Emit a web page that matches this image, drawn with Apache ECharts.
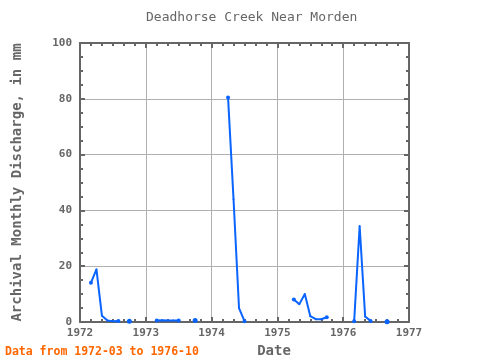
<!DOCTYPE html>
<html>
<head>
<meta charset="utf-8">
<script src="https://cdn.jsdelivr.net/npm/echarts@6/dist/echarts.min.js"></script>
<style>html,body{margin:0;padding:0;background:#fff}#c{width:480px;height:360px}</style>
</head>
<body>
<div id="c"></div>
<script>
// Monthly months (YYYY-MM) and discharge values (mm); null = no data
var months = [
  '1972-03','1972-04','1972-05','1972-06','1972-07','1972-08','1972-09','1972-10','1972-11','1972-12',
  '1973-01','1973-02','1973-03','1973-04','1973-05','1973-06','1973-07','1973-08','1973-09','1973-10','1973-11','1973-12',
  '1974-01','1974-02','1974-03','1974-04','1974-05','1974-06','1974-07','1974-08','1974-09','1974-10','1974-11','1974-12',
  '1975-01','1975-02','1975-03','1975-04','1975-05','1975-06','1975-07','1975-08','1975-09','1975-10','1975-11','1975-12',
  '1976-01','1976-02','1976-03','1976-04','1976-05','1976-06','1976-07','1976-08','1976-09','1976-10'
];
var discharge = [
  14.1, 18.9, 2.2, 0.5, 0.3, 0.4, null, 0.3, null, null,
  null, null, 0.5, 0.6, 0.5, 0.5, 0.5, null, null, 0.5, null, null,
  null, null, null, 80.5, 44.0, 5.0, 0.3, null, null, null, null, null,
  null, null, null, 8.1, 6.4, 10.0, 2.1, 1.0, 1.0, 1.7, null, null,
  null, null, 0.3, 34.4, 2.0, 0.4, null, null, 0.1, null
];
var xTicks = [1972, 1973, 1974, 1975, 1976, 1977];
var yTicks = [0, 20, 40, 60, 80, 100];

var titleText = 'Deadhorse Creek Near Morden';
var footText = 'Data from 1972-03 to 1976-10';
var yName = 'Archival Monthly Discharge, in mm';
var xName = 'Date';

var points = months.map(function (m, i) {
  var p = m.split('-');
  var x = +p[0] + (+p[1] - 1) / 12;
  return [x, discharge[i]];
});

var FONT = 'DejaVu Sans Mono';
var AX = '#666666';

function axisCommon(showLabel) {
  return {
    axisLine: { show: true, onZero: false, lineStyle: { color: AX, width: 2 } },
    axisTick: { show: true, inside: true, length: 5, lineStyle: { color: AX, width: 2 } },
    minorTick: { show: true, length: 3, lineStyle: { color: AX, width: 2 } },
    axisLabel: { show: showLabel, color: AX, fontFamily: FONT, fontSize: 11, fontWeight: 'bold' }
  };
}

var xBottom = Object.assign(axisCommon(true), {
  type: 'value', position: 'bottom', min: xTicks[0], max: xTicks[xTicks.length - 1], interval: 1,
  name: xName, nameLocation: 'middle', nameGap: 13,
  nameTextStyle: { color: AX, fontFamily: FONT, fontSize: 14, fontWeight: 'bold', padding: [0, 0, 0, 59] },
  splitLine: { show: true, lineStyle: { color: '#b0b0b0', width: 1 } }
});
xBottom.minorTick.splitNumber = 6;
xBottom.axisLabel.formatter = function (v) { return String(v); };
xBottom.axisLabel.margin = 6;

var xTop = Object.assign(axisCommon(false), {
  type: 'value', position: 'top', min: xTicks[0], max: xTicks[xTicks.length - 1], interval: 1,
  splitLine: { show: false }
});
xTop.minorTick.splitNumber = 6;

var yLeft = Object.assign(axisCommon(true), {
  type: 'value', position: 'left', min: yTicks[0], max: yTicks[yTicks.length - 1], interval: 20,
  name: yName, nameLocation: 'middle', nameGap: 56,
  nameTextStyle: { color: AX, fontFamily: FONT, fontSize: 14, fontWeight: 'bold' },
  splitLine: { show: true, lineStyle: { color: '#b0b0b0', width: 1 } }
});
yLeft.minorTick.splitNumber = 4;
yLeft.axisLabel.margin = 8;

var yRight = Object.assign(axisCommon(false), {
  type: 'value', position: 'right', min: yTicks[0], max: yTicks[yTicks.length - 1], interval: 20,
  splitLine: { show: false }
});
yRight.minorTick.splitNumber = 4;

// isolated points (no neighbours) get a visible dot, others a small one
function dotSize(val, params) {
  var i = params.dataIndex;
  var prev = i > 0 ? discharge[i - 1] : null;
  var next = i < discharge.length - 1 ? discharge[i + 1] : null;
  if (prev == null && next == null) return 5;
  if (prev == null || next == null) return 4;
  return 2;
}

var chart = echarts.init(document.getElementById('c'), null, { renderer: 'canvas' });
chart.setOption({
  animation: false,
  backgroundColor: '#ffffff',
  title: [
    { text: titleText, left: 146, top: 11, padding: 0,
      textStyle: { color: '#666666', fontFamily: FONT, fontSize: 13, fontWeight: 'normal' } },
    { text: footText, left: 5, top: 346, padding: 0,
      textStyle: { color: '#ff6600', fontFamily: FONT, fontSize: 11.5, fontWeight: 'bold' } }
  ],
  grid: { left: 80, right: 71, top: 43, bottom: 38, containLabel: false, outerBoundsMode: 'none' },
  xAxis: [xBottom, xTop],
  yAxis: [yLeft, yRight],
  series: [{
    type: 'line',
    xAxisIndex: 0, yAxisIndex: 0,
    data: points,
    connectNulls: false,
    showSymbol: true, showAllSymbol: true,
    symbol: 'circle', symbolSize: dotSize,
    itemStyle: { color: '#0a64ff' },
    lineStyle: { color: '#0a64ff', width: 2 },
    z: 5
  }]
});
</script>
</body>
</html>
